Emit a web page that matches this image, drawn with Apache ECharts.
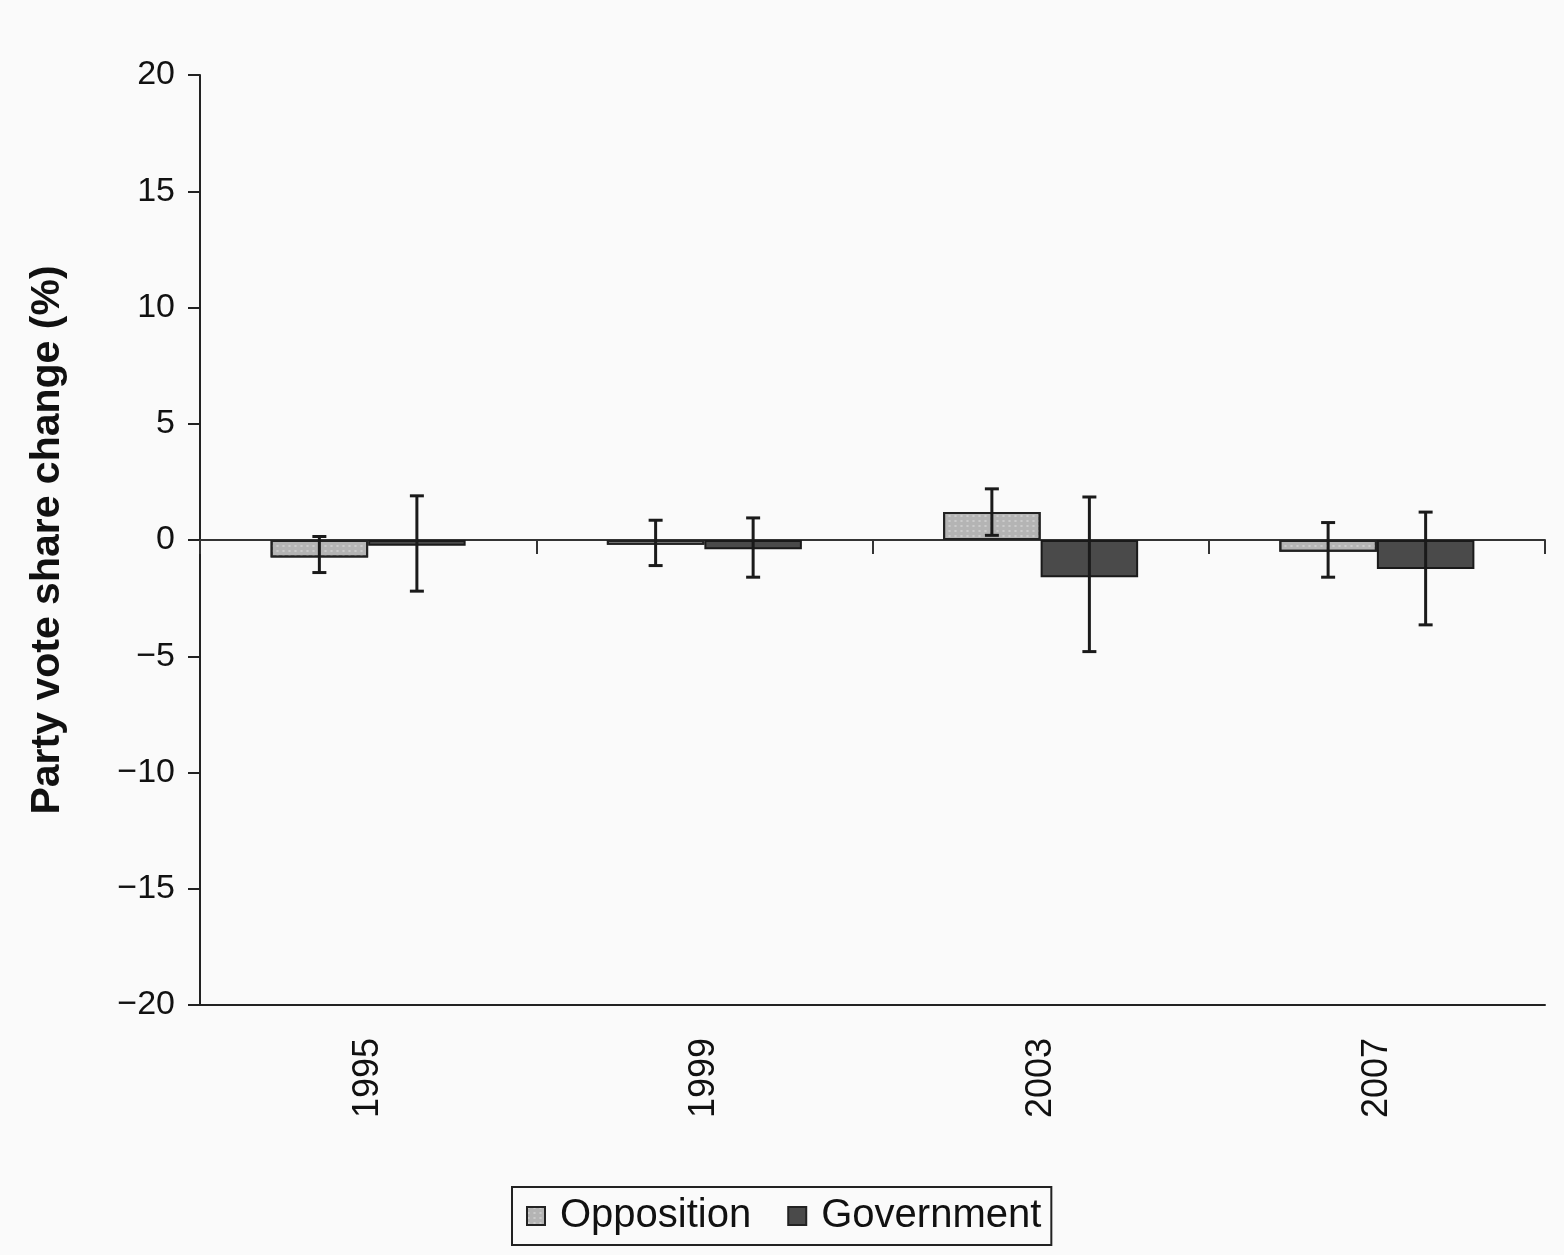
<!DOCTYPE html>
<html>
<head>
<meta charset="utf-8">
<script src="https://cdn.jsdelivr.net/npm/echarts@6/dist/echarts.min.js"></script>
<style>
  html, body { margin: 0; padding: 0; background: #fafafa; }
  #chart { width: 1564px; height: 1255px; }
</style>
</head>
<body>
<div id="chart"></div>
<script>
// election years
const years = ['1995', '1999', '2003', '2007'];
// mean change in vote share (%)
const opposition = [-0.75, -0.2, 1.2, -0.5];
const government = [-0.25, -0.4, -1.6, -1.25];
// error bar ends
const oppLow = [-1.4, -1.1, 0.2, -1.6];
const oppHigh = [0.15, 0.85, 2.2, 0.75];
const govLow = [-2.2, -1.6, -4.8, -3.65];
const govHigh = [1.9, 0.95, 1.85, 1.2];

const catGap = 0.42; // barCategoryGap
const font = 'Liberation Sans, Arial, sans-serif';

// error bar for one series, shifted left (-1) or right (+1) of the category centre
function errorBars(name, low, high, side) {
  return {
    type: 'custom',
    name: name + ' error',
    z: 5,
    data: years.map((y, i) => [i, low[i], high[i]]),
    renderItem: (params, api) => {
      const band = api.size([1, 0])[0];
      const barW = band * (1 - catGap) / 2;
      const lo = api.coord([api.value(0), api.value(1)]);
      const hi = api.coord([api.value(0), api.value(2)]);
      const x = lo[0] + side * barW / 2;
      const cap = 7;
      const style = { stroke: '#1a1a1a', lineWidth: 3 };
      return {
        type: 'group',
        children: [
          { type: 'line', shape: { x1: x, y1: lo[1], x2: x, y2: hi[1] }, style },
          { type: 'line', shape: { x1: x - cap, y1: lo[1], x2: x + cap, y2: lo[1] }, style },
          { type: 'line', shape: { x1: x - cap, y1: hi[1], x2: x + cap, y2: hi[1] }, style }
        ]
      };
    },
    tooltip: { show: false }
  };
}

const chart = echarts.init(document.getElementById('chart'));
chart.setOption({
  backgroundColor: '#fafafa',
  animation: false,
  textStyle: { fontFamily: font },
  grid: { left: 200, right: 19, top: 75, bottom: 250 },
  legend: {
    data: ['Opposition', 'Government'],
    left: 512,
    top: 1187,
    padding: [9, 10, 9, 14],
    itemGap: 36,
    icon: 'rect',
    itemWidth: 18,
    itemHeight: 18,
    itemStyle: { borderColor: '#222', borderWidth: 2 },
    borderColor: '#222',
    borderWidth: 2,
    textStyle: { fontSize: 40, color: '#111', fontFamily: font, padding: [0, 0, 0, 10] }
  },
  xAxis: [
    {
      type: 'category',
      data: years,
      position: 'bottom',
      axisLine: { onZero: false, lineStyle: { color: '#222', width: 2 } },
      axisTick: { show: false },
      axisLabel: { rotate: 90, fontSize: 36, color: '#111', margin: 33 }
    },
    {
      type: 'category',
      data: years,
      position: 'bottom',
      axisLine: { onZero: true, lineStyle: { color: '#333', width: 2 } },
      axisTick: { show: true, length: 14, lineStyle: { color: '#333', width: 2 } },
      axisLabel: { show: false }
    }
  ],
  yAxis: {
    type: 'value',
    min: -20,
    max: 20,
    interval: 5,
    name: 'Party vote share change (%)',
    nameLocation: 'middle',
    nameGap: 132,
    nameTextStyle: { fontSize: 41, fontWeight: 'bold', color: '#111' },
    axisLine: { show: true, lineStyle: { color: '#222', width: 2 } },
    axisTick: { show: true, length: 12, lineStyle: { color: '#222', width: 2 } },
    splitLine: { show: false },
    axisLabel: {
      fontSize: 34,
      color: '#111',
      margin: 25,
      formatter: v => (v < 0 ? '\u2212' + Math.abs(v) : String(v))
    }
  },
  series: [
    {
      name: 'Opposition',
      type: 'bar',
      data: opposition,
      barGap: '0%',
      barCategoryGap: catGap * 100 + '%',
      itemStyle: {
        color: '#b4b4b4',
        borderColor: '#222',
        borderWidth: 2,
        decal: {
          symbol: 'rect',
          symbolSize: 0.7,
          color: 'rgba(255,255,255,0.45)',
          dashArrayX: [3, 3],
          dashArrayY: [2, 3]
        }
      }
    },
    {
      name: 'Government',
      type: 'bar',
      data: government,
      barGap: '0%',
      barCategoryGap: catGap * 100 + '%',
      itemStyle: { color: '#4a4a4a', borderColor: '#1a1a1a', borderWidth: 2 }
    },
    errorBars('Opposition', oppLow, oppHigh, -1),
    errorBars('Government', govLow, govHigh, 1)
  ]
});
</script>
</body>
</html>
